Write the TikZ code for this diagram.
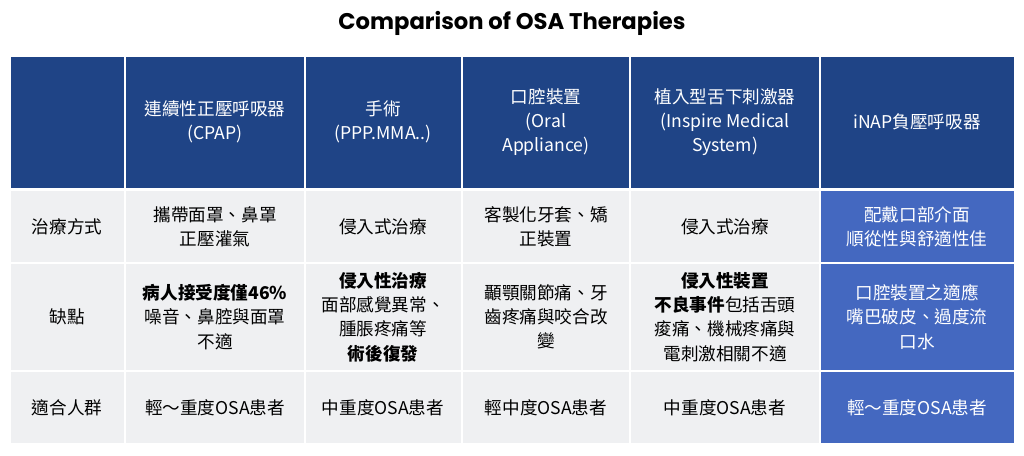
\documentclass[tikz,border=0pt]{standalone}
\usepackage{fontspec}
\setmainfont{Noto Sans CJK TC}
\newfontfamily\titlefont{Poppins}
\definecolor{hdr}{HTML}{1F4486}
\definecolor{acc}{HTML}{4468C0}
\definecolor{body}{HTML}{EFF0F2}
\begin{document}
\begin{tikzpicture}[x=0.75pt,y=-0.75pt,
  txt/.style={align=center,font=\fontsize{13.2}{18.2}\selectfont}]
\useasboundingbox[fill=white] (0,0) rectangle (1024,455);
\node[font=\titlefont\bfseries\fontsize{17}{19}\selectfont] (title) at (512,23) {Comparison of OSA Therapies};
\def\cols{{10,125,305,462,630,820,1014}}
\foreach \i in {0,...,5}{
  \pgfmathsetmacro\xa{\cols[\i]}\pgfmathsetmacro\xb{\cols[\i+1]}
  \fill[hdr] (\xa,57) rectangle (\xb,188);
  \fill[body] (\xa,191) rectangle (\xb,443);
  \ifnum\i=5 \fill[acc] (\xa,191) rectangle (\xb,443);\fi
  \draw[white,line width=1.2pt] (\xa,57) -- (\xa,443);
}
\foreach \y in {263,371}{\draw[white,line width=1.5pt] (10,\y) -- (1014,\y);}
\fill[white] (10,188) rectangle (1014,191);
\begin{scope}[every node/.style={txt}]
\node[text=white] (h1) at (215,122) {連續性正壓呼吸器\\(CPAP)};
\node[text=white] (h2) at (383,122) {手術\\(PPP.MMA..)};
\node[text=white] (h3) at (546,122) {口腔裝置\\(Oral\\Appliance)};
\node[text=white] (h4) at (725,122) {植入型舌下刺激器\\(Inspire Medical\\System)};
\node[text=white] (h5) at (917,122) {iNAP負壓呼吸器};
\node (r1) at (67,227) {治療方式};
\node (r2) at (67,317) {缺點};
\node (r3) at (67,408) {適合人群};
\node (a1) at (215,227) {攜帶面罩、鼻罩\\正壓灌氣};
\node (a2) at (383,227) {侵入式治療};
\node (a3) at (546,227) {客製化牙套、矯\\正裝置};
\node (a4) at (725,227) {侵入式治療};
\node[text=white] (a5) at (917,227) {配戴口部介面\\順從性與舒適性佳};
\node (b1) at (215,317) {\textbf{病人接受度僅46\%}\\噪音、鼻腔與面罩\\不適};
\node (b2) at (383,317) {\textbf{侵入性治療}\\面部感覺異常、\\腫脹疼痛等\\\textbf{術後復發}};
\node (b3) at (546,317) {顳顎關節痛、牙\\齒疼痛與咬合改\\變};
\node (b4) at (725,317) {\textbf{侵入性裝置}\\\textbf{不良事件}包括舌頭\\痠痛、機械疼痛與\\電刺激相關不適};
\node[text=white] (b5) at (917,317) {口腔裝置之適應\\嘴巴破皮、過度流\\口水};
\node (c1) at (215,408) {輕～重度OSA患者};
\node (c2) at (383,408) {中重度OSA患者};
\node (c3) at (546,408) {輕中度OSA患者};
\node (c4) at (725,408) {中重度OSA患者};
\node[text=white] (c5) at (917,408) {輕～重度OSA患者};
\end{scope}
\end{tikzpicture}
\end{document}
